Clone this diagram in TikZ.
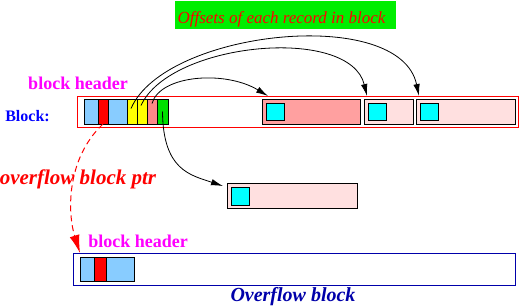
\documentclass[tikz,border=0pt]{standalone}
\usepackage{fontspec}
\setmainfont{Liberation Serif}
\usetikzlibrary{arrows.meta,calc}
\definecolor{hblue}{HTML}{88CCFF}
\definecolor{hred}{HTML}{FF0000}
\definecolor{hyellow}{HTML}{FFFF00}
\definecolor{hsalmon}{HTML}{FF8888}
\definecolor{hgreen}{HTML}{00E000}
\definecolor{topgreen}{HTML}{00EE00}
\definecolor{recdark}{HTML}{FFA0A0}
\definecolor{reclight}{HTML}{FFE0E0}
\definecolor{kcyan}{HTML}{00FFFF}
\definecolor{kmagenta}{HTML}{FF00FF}
\definecolor{kblue}{HTML}{0000FF}
\definecolor{knavy}{HTML}{0000AA}
\begin{document}
\begin{tikzpicture}[x=1pt,y=-1pt,
  box/.style={draw=black, line width=1pt, inner sep=0pt, outer sep=0pt, anchor=north west},
  frame/.style={line width=1pt, inner sep=0pt, outer sep=0pt, anchor=north west},
  arr/.style={-{Latex[length=12pt,width=6.5pt]}, line width=0.8pt},
  hdrtext/.style={text=kmagenta, font=\fontsize{18}{20}\selectfont\bfseries, anchor=base, inner sep=0pt},
]
\useasboundingbox (0,0) rectangle (520,306);

% title
\node[fill=topgreen, minimum width=221pt, minimum height=28pt, inner sep=0pt, anchor=north west] (offbox) at (175,1) {};
\node[text=red, font=\fontsize{17}{19}\selectfont\itshape, anchor=base, inner sep=0pt] (offs) at (281.5,23) {Offsets of each record in block};

% main block
\node[frame, draw=red, minimum width=441pt, minimum height=31pt] (blk) at (77,96) {};
\node[box, fill=hblue,   minimum width=14pt, minimum height=25pt] (h1) at (84,99) {};
\node[box, fill=hred,    minimum width=10pt, minimum height=25pt] (h2) at (98,99) {};
\node[box, fill=hblue,   minimum width=19pt, minimum height=25pt] (h3) at (108,99) {};
\node[box, fill=hyellow, minimum width=10pt, minimum height=25pt] (h4) at (127,99) {};
\node[box, fill=hyellow, minimum width=10pt, minimum height=25pt] (h5) at (137,99) {};
\node[box, fill=hsalmon, minimum width=10pt, minimum height=25pt] (h6) at (147,99) {};
\node[box, fill=hgreen,  minimum width=11pt, minimum height=25pt] (h7) at (157,99) {};

\node[box, fill=recdark,  minimum width=98pt, minimum height=25pt] (r1) at (262,99) {};
\node[box, fill=kcyan, minimum width=18pt, minimum height=17pt] (c1) at (266,103) {};
\node[box, fill=reclight, minimum width=49pt, minimum height=25pt] (r2) at (364,99) {};
\node[box, fill=kcyan, minimum width=18pt, minimum height=17pt] (c2) at (368,103) {};
\node[box, fill=reclight, minimum width=99pt, minimum height=25pt] (r3) at (416,99) {};
\node[box, fill=kcyan, minimum width=18pt, minimum height=17pt] (c3) at (420,103) {};

% overflow record
\node[box, fill=reclight, minimum width=130pt, minimum height=25pt] (orec) at (227,183) {};
\node[box, fill=kcyan, minimum width=18pt, minimum height=18pt] (oc) at (231,187) {};

% overflow block
\node[frame, draw=knavy, minimum width=442pt, minimum height=32pt] (oblk) at (73,253) {};
\node[box, fill=hblue, minimum width=14pt, minimum height=24pt] (o1) at (80,257) {};
\node[box, fill=hred,  minimum width=12pt, minimum height=24pt] (o2) at (94,257) {};
\node[box, fill=hblue, minimum width=28pt, minimum height=24pt] (o3) at (106,257) {};

% labels
\node[hdrtext] (bh1) at (78,89) {block header};
\node[hdrtext] (bh2) at (138,247) {block header};
\node[text=kblue, font=\fontsize{16}{18}\selectfont\bfseries, anchor=base, inner sep=0pt] (blab) at (27.5,121) {Block:};
\node[text=red, font=\fontsize{21}{23}\selectfont\bfseries\itshape, anchor=base, inner sep=0pt] (optr) at (78,184) {overflow block ptr};
\node[text=knavy, font=\fontsize{20}{23}\selectfont\bfseries\itshape, anchor=base, inner sep=0pt] (olab) at (293,301) {Overflow block};

% offset arrows
\draw[arr] ($(h4.center)+(-1,-3)$) .. controls (165,30) and (400,5) .. ($(r3.north west)+(3,-3)$);
\draw[arr] ($(h5.center)+(-1,-6)$) .. controls (170,42) and (350,25) .. ($(r2.north west)+(3,-3)$);
\draw[arr] ($(h6.center)+(0,-8)$) .. controls (160,75) and (225,70) .. ($(r1.north west)+(6,-3)$);
\draw[arr] (h7.center) .. controls (163,170) and (190,175) .. ($(orec.north west)+(-4,3)$);

% overflow pointer
\draw[red, line width=1pt, dash pattern=on 6pt off 4pt, -{Latex[length=18pt,width=10pt]}]
  (h2.south) .. controls (65,160) and (68,215) .. ($(oblk.north west)+(7,0)$);
\end{tikzpicture}
\end{document}
